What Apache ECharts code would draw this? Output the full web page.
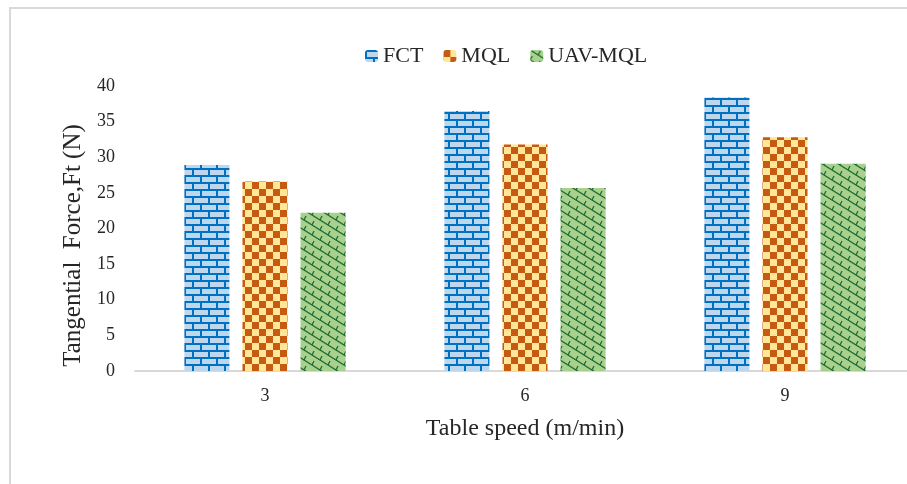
<!DOCTYPE html>
<html>
<head>
<meta charset="utf-8">
<script src="https://cdn.jsdelivr.net/npm/echarts@6/dist/echarts.min.js"></script>
<style>
  html, body { margin: 0; padding: 0; background: #fff; }
  #chart { width: 907px; height: 484px; }
</style>
</head>
<body>
<div id="chart"></div>
<script>
// données
const speeds = ["3", "6", "9"];
const fct = [28.9, 36.5, 38.4];
const mql = [26.6, 31.8, 32.8];
const uavMql = [22.2, 25.7, 29.1];
const yTicks = { min: 0, max: 40, interval: 5 };

// motifs de remplissage (brique, damier, diagonales)
function brickPattern() {
	const c = document.createElement("canvas");
	c.width = 16; c.height = 14;
	const g = c.getContext("2d");
	g.fillStyle = "#BDD7EE";
	g.fillRect(0, 0, 16, 14);
	g.fillStyle = "#0070C0";
	g.fillRect(0, 0, 16, 2);
	g.fillRect(0, 7, 16, 2);
	g.fillRect(0, 0, 2, 7);
	g.fillRect(8, 7, 2, 7);
	return c;
}

function checkerPattern() {
	const c = document.createElement("canvas");
	c.width = 14; c.height = 14;
	const g = c.getContext("2d");
	g.fillStyle = "#FFE699";
	g.fillRect(0, 0, 14, 14);
	g.fillStyle = "#C55A11";
	g.fillRect(0, 0, 7, 7);
	g.fillRect(7, 7, 7, 7);
	return c;
}

function diagPattern() {
	const c = document.createElement("canvas");
	c.width = 16; c.height = 10;
	const g = c.getContext("2d");
	g.fillStyle = "#A9D18E";
	g.fillRect(0, 0, 16, 10);
	g.strokeStyle = "#1F6B33";
	g.lineWidth = 1.3;
	g.beginPath();
	g.moveTo(-16, -10); g.lineTo(32, 20);
	g.moveTo(-16, 0); g.lineTo(16, 20);
	g.moveTo(0, -10); g.lineTo(32, 10);
	g.stroke();
	g.beginPath();
	g.moveTo(8, 5); g.lineTo(10, 1);
	g.moveTo(0, 0); g.lineTo(2, -4);
	g.moveTo(16, 0); g.lineTo(18, -4);
	g.moveTo(0, 10); g.lineTo(2, 6);
	g.moveTo(16, 10); g.lineTo(18, 6);
	g.stroke();
	return c;
}

const serif = "Liberation Serif";
const txt = "#262626";

const chart = echarts.init(document.getElementById("chart"), null, { renderer: "canvas" });
chart.setOption({
	backgroundColor: "#fff",
	animation: false,
	textStyle: { fontFamily: serif },
	graphic: [
		{
			type: "rect",
			shape: { x: 10, y: 8, width: 1000, height: 600 },
			style: { fill: null, stroke: "#D9D9D9", lineWidth: 2 },
			silent: true,
		},
	],
	legend: {
		top: 40,
		left: 360,
		itemWidth: 13,
		itemHeight: 12,
		itemGap: 20,
		itemStyle: { borderWidth: 0 },
		textStyle: { fontFamily: serif, fontSize: 22, color: txt },
		data: ["FCT", "MQL", "UAV-MQL"],
	},
	grid: { left: 135, top: 86, bottom: 113, width: 780, outerBoundsMode: "none" },
	xAxis: {
		type: "category",
		data: speeds,
		name: "Table speed (m/min)",
		nameLocation: "middle",
		nameGap: 46,
		nameTextStyle: { fontFamily: serif, fontSize: 24, color: txt },
		axisLine: { lineStyle: { color: "#D9D9D9", width: 2 } },
		axisTick: { show: false },
		axisLabel: { fontFamily: serif, fontSize: 18, color: txt, margin: 16 },
	},
	yAxis: {
		type: "value",
		min: yTicks.min,
		max: yTicks.max,
		interval: yTicks.interval,
		name: "Tangential  Force,Ft (N)",
		nameLocation: "middle",
		nameGap: 47,
		nameTextStyle: { fontFamily: serif, fontSize: 25, color: txt, padding: [0, 34, 0, 0] },
		axisLine: { show: false },
		axisTick: { show: false },
		splitLine: { show: false },
		axisLabel: { fontFamily: serif, fontSize: 18, color: txt, margin: 20 },
	},
	series: [
		{
			name: "FCT",
			type: "bar",
			data: fct,
			barGap: "29%",
			barCategoryGap: "38%",
			itemStyle: { color: { image: brickPattern(), repeat: "repeat" } },
		},
		{
			name: "MQL",
			type: "bar",
			data: mql,
			itemStyle: { color: { image: checkerPattern(), repeat: "repeat" } },
		},
		{
			name: "UAV-MQL",
			type: "bar",
			data: uavMql,
			itemStyle: { color: { image: diagPattern(), repeat: "repeat" } },
		},
	],
});
</script>
</body>
</html>
